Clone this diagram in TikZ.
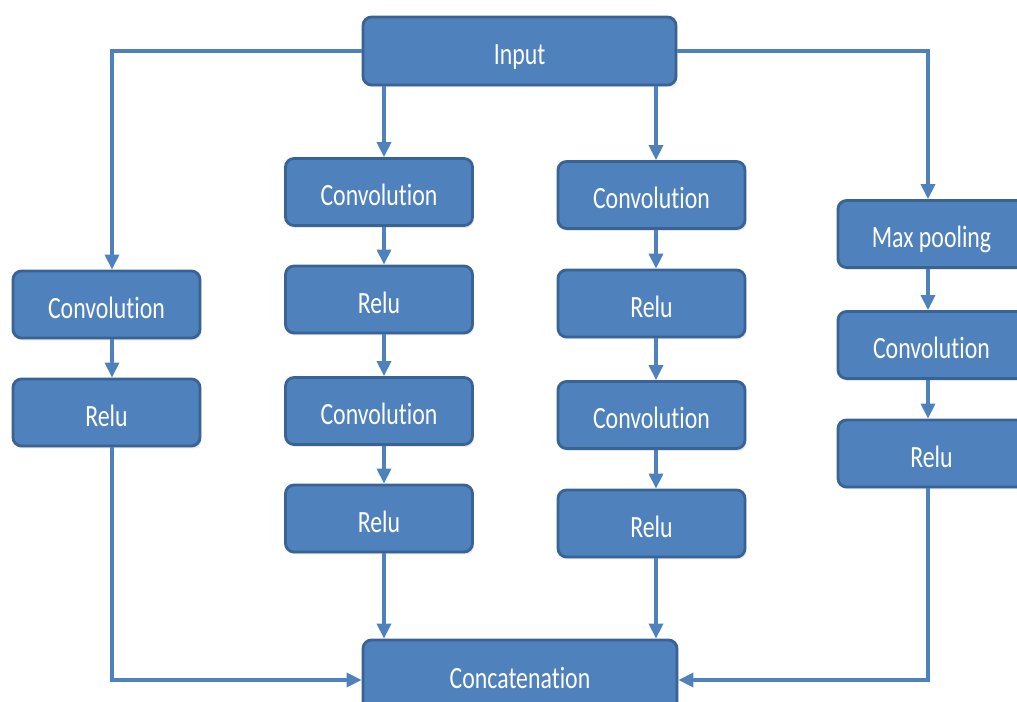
\documentclass[tikz,border=0pt]{standalone}
\usepackage{fontspec}
\setmainfont{Carlito}
\newfontfamily\boxfont[FakeStretch=0.77,Ligatures=NoCommon]{Carlito}
\usepackage{tikz}
\usetikzlibrary{arrows.meta,shadows}
\definecolor{boxblue}{HTML}{4F81BD}
\definecolor{boxedge}{HTML}{3A6395}

\tikzset{
	blk/.style={draw=boxedge, line width=1.6pt, fill=boxblue, rounded corners=0.17cm,
		text=white, minimum width=3.74cm, minimum height=1.34cm,
		font=\boxfont\fontsize{17.6}{20}\selectfont, text height=17pt, text depth=1.2pt,
		drop shadow={opacity=0.18, shadow xshift=0.03cm, shadow yshift=-0.05cm}},
	flow/.style={draw=boxblue, line width=2pt, -{Triangle[length=0.3cm,width=0.28cm]}}
}

\begin{document}
\begin{tikzpicture}[x=0.02cm,y=-0.02cm]
				\useasboundingbox (0,0) rectangle (1017,702);
				% arrow lanes
				\coordinate (k1) at (112,0);
				\coordinate (k2) at (384,0);
				\coordinate (k3) at (656,0);
				\coordinate (k4) at (928,0);
				\node[blk, minimum width=6.26cm, minimum height=1.36cm] (in) at (519.5,51) {Input};
				\node[blk, minimum width=6.28cm, minimum height=1.6cm, text depth=7pt] (cat) at (520,680) {Concatenation};
				% left branch
				\node[blk] (a1) at (106.5,304.5) {Convolution};
				\node[blk] (a2) at (106.5,412.5) {Relu};
				% two middle branches
				\node[blk] (b1) at (379,192) {Convolution};
				\node[blk] (b2) at (379,299.5) {Relu};
				\node[blk] (b3) at (379,411) {Convolution};
				\node[blk] (b4) at (379,518.5) {Relu};
				\node[blk] (c1) at (651.5,195) {Convolution};
				\node[blk] (c2) at (651.5,303.5) {Relu};
				\node[blk] (c3) at (651.5,415) {Convolution};
				\node[blk] (c4) at (651.5,523.5) {Relu};
				% right branch
				\node[blk] (d1) at (931.5,234) {Max pooling};
				\node[blk] (d2) at (931.5,345) {Convolution};
				\node[blk] (d3) at (931.5,453.5) {Relu};

				\draw[flow] (in.west) -| (k1 |- a1.north);
				\draw[flow] (a1.south -| k1) -- (a2.north -| k1);
				\draw[flow] (a2.south -| k1) |- (cat.west);
				\foreach \s/\k in {b/k2,c/k3} {
					\draw[flow] (in.south -| \k) -- (\s1.north -| \k);
					\foreach \p [evaluate={\q=int(\p+1)}] in {1,2,3} {
						\draw[flow] (\s\p.south -| \k) -- (\s\q.north -| \k);
					}
					\draw[flow] (\s4.south -| \k) -- (cat.north -| \k);
				}
				\draw[flow] (in.east) -| (k4 |- d1.north);
				\draw[flow] (d1.south -| k4) -- (d2.north -| k4);
				\draw[flow] (d2.south -| k4) -- (d3.north -| k4);
				\draw[flow] (d3.south -| k4) |- (cat.east);
\end{tikzpicture}
\end{document}
